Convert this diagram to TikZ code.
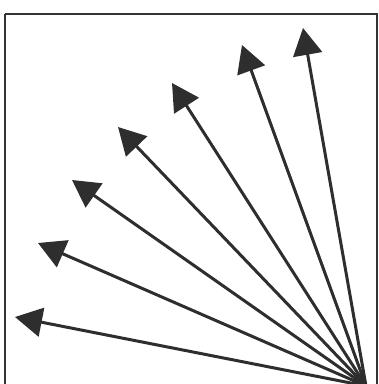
\documentclass[tikz,border=0pt]{standalone}
\usetikzlibrary{arrows.meta}
\begin{document}
\begin{tikzpicture}[x=1pt,y=-1pt,
  ray/.style={draw=black!82, line width=3pt, -{Triangle[length=27pt,width=29pt]}},
  frame/.style={draw=black!80, line width=2pt}]
\useasboundingbox (0,0) rectangle (379,384);
\clip (0,0) rectangle (379,384);
\draw[frame] (5,14) -- (377,14) -- (377,400);
\draw[frame] (5,14) -- (5,400);
\coordinate (o) at (366,386);
\coordinate (t1) at (15,317);
\coordinate (t2) at (38,243);
\coordinate (t3) at (72,180);
\coordinate (t4) at (118,127);
\coordinate (t5) at (172,83);
\coordinate (t6) at (242,45);
\coordinate (t7) at (303,28);
\foreach \t in {t1,t2,t3,t4,t5,t6,t7} \draw[ray] (o) -- (\t);
\end{tikzpicture}
\end{document}
